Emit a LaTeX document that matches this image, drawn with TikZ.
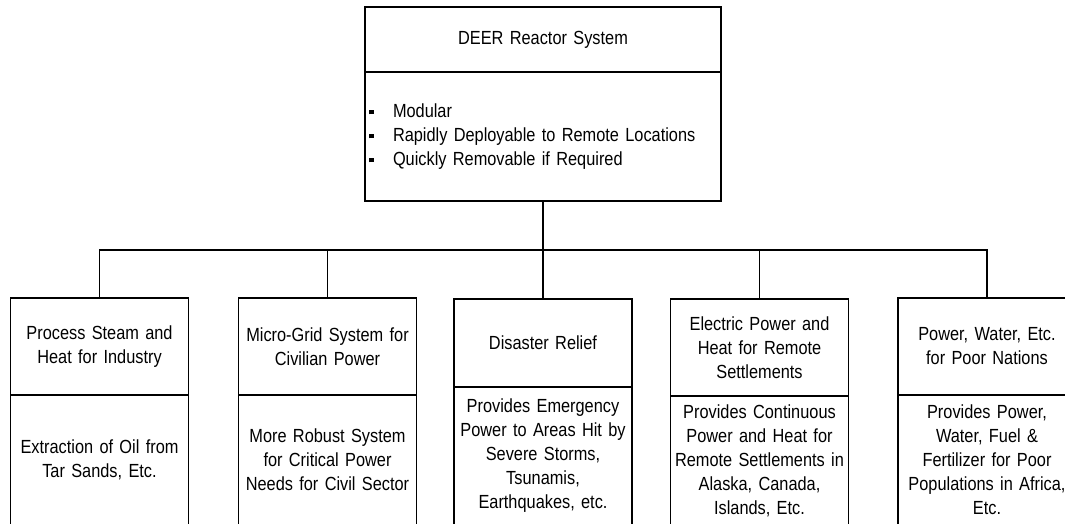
\documentclass[tikz,border=0pt]{standalone}
\usepackage{fontspec}
\setmainfont{Liberation Sans}[FakeStretch=0.86]
\usetikzlibrary{positioning}
\newcommand{\sqbullet}{\makebox[24pt][l]{\rule[3pt]{4.5pt}{4.5pt}}}

\begin{document}
\begin{tikzpicture}[x=1pt, y=1pt, line width=1.1pt,
  every node/.style={font=\fontsize{19}{24}\selectfont},
  box/.style={draw, inner sep=0pt, outer sep=0pt, text width=178pt, align=center},
  topbox/.style={draw, inner sep=0pt, outer sep=0pt, text width=356pt, align=center}]
\useasboundingbox (0,0) rectangle (1065,-523);
% main system
\node[topbox, minimum height=65pt, anchor=north] (deer) at (543,-7) {DEER Reactor System};
\node[topbox, minimum height=129pt, below=0pt of deer, inner xsep=4pt, text width=348pt, align=left] (deerlist)
  {\sqbullet Modular\\ \sqbullet Rapidly Deployable to Remote Locations\\ \sqbullet Quickly Removable if Required};
% applications
\node[box, minimum height=97pt, anchor=north] (steam) at (99.5,-298) {Process Steam and\\Heat for Industry};
\node[box, minimum height=130pt, below=0pt of steam] (steamuse) {Extraction of Oil from\\Tar Sands, Etc.};
\node[box, minimum height=97pt, anchor=north] (grid) at (327.5,-298) {Micro-Grid System for\\Civilian Power};
\node[box, minimum height=130pt, below=0pt of grid] (griduse) {More Robust System\\for Critical Power\\Needs for Civil Sector};
\node[box, minimum height=88pt, anchor=north] (relief) at (543,-299) {Disaster Relief};
\node[box, minimum height=138pt, below=0pt of relief] (reliefuse) {Provides Emergency\\Power to Areas Hit by\\Severe Storms,\\Tsunamis,\\Earthquakes, etc.};
\node[box, minimum height=97pt, anchor=north] (remote) at (759.5,-299) {Electric Power and\\Heat for Remote\\Settlements};
\node[box, minimum height=130pt, below=0pt of remote] (remoteuse) {Provides Continuous\\Power and Heat for\\Remote Settlements in\\Alaska, Canada,\\Islands, Etc.};
\node[box, minimum height=97pt, anchor=north] (poor) at (987,-298) {Power, Water, Etc.\\for Poor Nations};
\node[box, minimum height=130pt, below=0pt of poor] (pooruse) {Provides Power,\\Water, Fuel \&\\Fertilizer for Poor\\Populations in Africa,\\Etc.};
% connectors
\coordinate (bus) at (543,-250);
\draw (deerlist) -- (bus);
\foreach \n in {steam,grid,relief,remote,poor}
  \draw (bus) -| (\n);
\end{tikzpicture}
\end{document}
